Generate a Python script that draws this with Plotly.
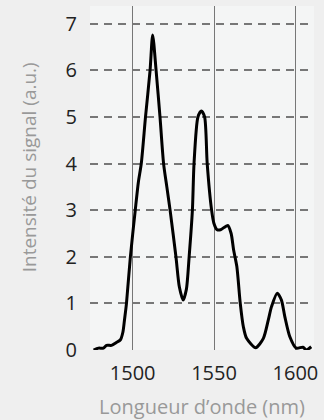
import plotly.graph_objects as go

# Spectrum samples: wavelength (nm) and signal intensity (a.u.)
wavelength = [1476, 1479, 1482, 1484, 1487, 1490, 1492.5, 1494, 1495, 1496.2,
              1498.6, 1501.6, 1503.5, 1505.3, 1507.9, 1510.7, 1512.3, 1514.4,
              1516.8, 1519, 1521, 1523, 1526.6, 1528.7, 1531, 1533, 1534.7,
              1536.7, 1537.7, 1540.1, 1542.2, 1544.2, 1545.8, 1548.5, 1549.9,
              1551.9, 1554, 1558.4, 1560.5, 1562, 1564, 1566.1, 1568, 1570,
              1575.6, 1580.3, 1583.3, 1585.3, 1588.8, 1591.4, 1593.5, 1596.5,
              1600.5, 1604.6, 1606.6, 1609.7]
intensity = [0.00, 0.04, 0.04, 0.10, 0.10, 0.16, 0.22, 0.38, 0.65, 1.00,
             2.00, 3.00, 3.60, 4.00, 5.00, 6.00, 6.76, 6.00,
             5.00, 4.00, 3.50, 3.00, 2.00, 1.35, 1.07, 1.30, 2.00,
             3.00, 4.00, 5.00, 5.13, 5.00, 4.00, 3.00, 2.72,
             2.58, 2.58, 2.67, 2.50, 2.15, 1.79, 1.00, 0.50, 0.25,
             0.05, 0.25, 0.64, 0.93, 1.22, 1.07, 0.71, 0.29,
             0.04, 0.06, 0.00, 0.07]

x_ticks = [1500, 1550, 1600]
y_ticks = [0, 1, 2, 3, 4, 5, 6, 7]

fig = go.Figure()
fig.add_trace(go.Scatter(
    x=wavelength, y=intensity, mode="lines",
    line=dict(color="black", width=3, shape="spline", smoothing=0.7),
    hoverinfo="skip", showlegend=False,
))

font_family = "Open Sans"

fig.update_layout(
    width=324, height=420,
    margin=dict(l=90, r=8, t=6, b=70),
    paper_bgcolor="#efefef",
    plot_bgcolor="#f4f5f5",
    font=dict(family=font_family, size=20, color="#222222"),
    xaxis=dict(
        range=[1473.8, 1611.4],
        tickvals=x_ticks,
        showgrid=True, gridcolor="#777777", gridwidth=1,
        zeroline=False, showline=False,
        ticks="outside", ticklen=5, tickcolor="rgba(0,0,0,0)",
        tickfont=dict(size=20, color="#222222"),
        title=dict(text="Longueur d\u2019onde (nm)", standoff=14,
                   font=dict(size=20, color="#999999")),
    ),
    yaxis=dict(
        range=[0, 7.38],
        tickvals=y_ticks,
        showgrid=True, gridcolor="#777777", gridwidth=1.5,
        griddash="8px,6px",
        zeroline=False, showline=False,
        ticks="outside", ticklen=8, tickcolor="rgba(0,0,0,0)",
        tickfont=dict(size=20, color="#222222"),
    ),
    annotations=[dict(
        text="Intensit\u00e9 du signal (a.u.)",
        xref="paper", yref="paper", x=-0.274, y=0.53,
        xanchor="center", yanchor="middle", textangle=-90,
        showarrow=False, font=dict(size=19, color="#999999"),
    )],
)

fig.write_html("out.html")
